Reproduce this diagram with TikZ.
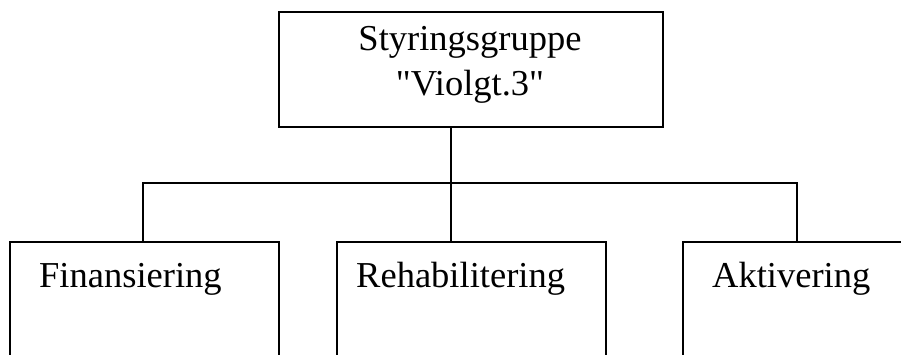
\documentclass[tikz,border=0pt]{standalone}
\usepackage{fontspec}
\newfontfamily\tnr{Liberation Serif}
\begin{document}
\begin{tikzpicture}[x=1pt,y=-1pt,
  box/.style={draw=black,line width=1.6pt,rectangle,inner sep=0pt,anchor=north west},
  txt/.style={inner sep=0pt,font=\tnr\fontsize{36.5}{44}\selectfont},
  lbl/.style={txt,anchor=base west},
  conn/.style={draw=black,line width=1.6pt}]
\useasboundingbox (0,0) rectangle (901,354);
\clip (0,0) rectangle (901,354);
\fill[white] (0,0) rectangle (901,354);
\node[box,minimum width=384pt,minimum height=115pt] (top) at (278,11) {};
\node[txt,anchor=base] (t1) at (470,50) {Styringsgruppe};
\node[txt,anchor=base] (t2) at (470,95) {"Violgt.3"};
\node[box,minimum width=269pt,minimum height=200pt] (fin) at (9,241) {};
\node[box,minimum width=269pt,minimum height=200pt] (reh) at (336,241) {};
\node[box,minimum width=269pt,minimum height=200pt] (akt) at (682,241) {};
\node[lbl] (finl) at (39,287) {Finansiering};
\node[lbl] (rehl) at (356,287) {Rehabilitering};
\node[lbl] (aktl) at (712,287) {Aktivering};
\coordinate (bar) at (451,183);
\coordinate (lstub) at (143,183);
\coordinate (rstub) at (797,183);
\draw[conn] (top.south -| bar) -- (reh.north -| bar);
\draw[conn] (fin.north -| lstub) |- (bar) -| (akt.north -| rstub);
\end{tikzpicture}
\end{document}
